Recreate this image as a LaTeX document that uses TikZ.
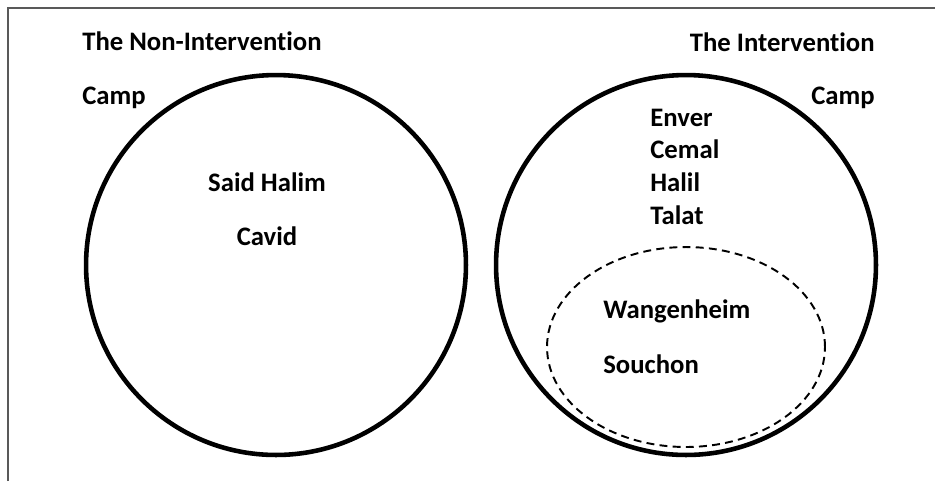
\documentclass[tikz,border=0pt]{standalone}
\usepackage{fontspec}
\setmainfont{Carlito}[Ligatures=NoCommon]
\usetikzlibrary{positioning,shapes.geometric}

\begin{document}
\begin{tikzpicture}[
  x=0.02cm, y=-0.02cm,
  font=\fontsize{15.2}{18}\selectfont\bfseries,
  campcircle/.style={
    circle, draw=black, line width=2.6pt,
    minimum size=7.6cm, inner sep=0pt
  },
  envoys/.style={
    ellipse, draw=black, line width=1.1pt,
    dash pattern=on 4.5pt off 3pt,
    minimum width=5.56cm, minimum height=4.0cm, inner sep=0pt
  },
  heading/.style={inner sep=0pt},
  member/.style={inner sep=0pt, text height=0.3cm, text depth=0pt},
  border/.style={draw=black!65, line width=0.8pt}
]
\useasboundingbox (0,0) rectangle (935,481);

% Frame (left and top edges only)
\draw[border] (8,481) -- (8,8) -- (935,8);

% The two camps
\node[campcircle] (noncamp) at (276,265) {};
\node[campcircle] (intcamp) at (686,265) {};
\node[envoys] (germans) at (686,347) {};

% Titles
\node[heading, anchor=base west] (nontitle) at (82,50) {The Non-Intervention};
\node[heading, anchor=base west] (noncamplbl) at (82,104) {Camp};
\node[heading, anchor=base east] (inttitle) at (875,51) {The Intervention};
\node[heading, anchor=base east] (intcamplbl) at (875,104) {Camp};

% Non-intervention members
\node[member, anchor=base] (saidhalim) at (267,191) {Said Halim};
\node[member, below=0.78cm of saidhalim, anchor=north] (cavid) {Cavid};

% Intervention members
\node[member, anchor=base west] (enver) at (650,126) {Enver};
\node[member, below=0.34cm of enver.south west, anchor=north west] (cemal) {Cemal};
\node[member, below=0.34cm of cemal.south west, anchor=north west] (halil) {Halil};
\node[member, below=0.34cm of halil.south west, anchor=north west] (talat) {Talat};

% German envoys
\node[member, anchor=base west] (wangenheim) at (603,318) {Wangenheim};
\node[member, below=0.8cm of wangenheim.south west, anchor=north west] (souchon) {Souchon};

\end{tikzpicture}
\end{document}
